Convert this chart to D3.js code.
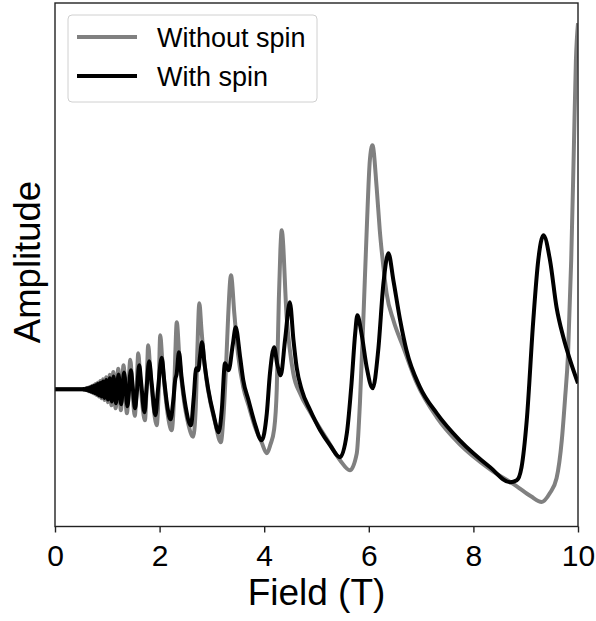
<!DOCTYPE html>
<html>
<head>
<meta charset="utf-8">
<script src="https://cdn.jsdelivr.net/npm/d3@7"></script>
<style>
  html, body { margin: 0; padding: 0; background: #fff; }
  svg text { font-family: "Liberation Sans", Arial, sans-serif; fill: #000; }
</style>
</head>
<body>
<div id="chart"></div>
<script>
// ---- data (field in T, amplitude in arbitrary units) ----
const xTicks = [0, 2, 4, 6, 8, 10];
const seriesNames = ["Without spin", "With spin"];

const withoutSpin = [
  [0, 0], [0.25, 0], [0.45, 0], [0.52, 0],
  [0.531, 0.002], [0.541, -0.003], [0.551, 0.004], [0.561, -0.005],
  [0.571, 0.006], [0.582, -0.007], [0.594, 0.009], [0.606, -0.010],
  [0.618, 0.013], [0.631, -0.015], [0.644, 0.018], [0.658, -0.020],
  [0.673, 0.024], [0.688, -0.027], [0.704, 0.032], [0.721, -0.035],
  [0.739, 0.041], [0.757, -0.045], [0.776, 0.052], [0.797, -0.057],
  [0.818, 0.066], [0.840, -0.072], [0.865, 0.082], [0.890, -0.089],
  [0.917, 0.100], [0.946, -0.108], [0.977, 0.120], [1.010, -0.130],
  [1.044, 0.145], [1.080, -0.160], [1.115, 0.173], [1.160, -0.190],
  [1.210, 0.205], [1.260, -0.210], [1.310, 0.240], [1.375, -0.240],
  [1.440, 0.295], [1.480, 0.0], [1.525, -0.265], [1.560, 0.0],
  [1.592, 0.360], [1.630, 0.10], [1.670, -0.15], [1.720, -0.310], [1.750, 0.0],
  [1.782, 0.440], [1.820, 0.20], [1.870, -0.10], [1.945, -0.360], [1.980, -0.05],
  [2.012, 0.540], [2.050, 0.30], [2.100, 0.0], [2.170, -0.30], [2.230, -0.410], [2.270, -0.15], [2.300, 0.35],
  [2.328, 0.670], [2.380, 0.30], [2.450, -0.05], [2.550, -0.35], [2.640, -0.475], [2.690, -0.20], [2.720, 0.35],
  [2.760, 0.860], [2.800, 0.60], [2.850, 0.30], [2.900, 0.08], [2.960, -0.10], [3.060, -0.33], [3.170, -0.530],
  [3.220, -0.28], [3.270, 0.22], [3.310, 0.72],
  [3.365, 1.140], [3.430, 0.75], [3.500, 0.35], [3.600, 0.02], [3.700, -0.16], [3.820, -0.37], [3.950, -0.53],
  [4.050, -0.640], [4.120, -0.55], [4.190, -0.40], [4.240, 0.0], [4.280, 0.90], [4.310, 1.40],
  [4.335, 1.590], [4.430, 0.72], [4.556, 0.16], [4.685, -0.04], [4.880, -0.23], [5.200, -0.50], [5.450, -0.71],
  [5.640, -0.810], [5.770, -0.64], [5.830, -0.14], [5.895, 0.69], [5.960, 1.59], [6.020, 2.29],
  [6.070, 2.440], [6.150, 2.02], [6.210, 1.59], [6.280, 1.22], [6.340, 0.96], [6.470, 0.69], [6.660, 0.42],
  [6.920, 0.06], [7.300, -0.28], [7.740, -0.55], [8.320, -0.80], [8.830, -0.97], [9.100, -1.07],
  [9.306, -1.127], [9.460, -1.04], [9.590, -0.89], [9.690, -0.51], [9.750, -0.11], [9.810, 0.36],
  [9.870, 1.29], [9.920, 2.39], [9.960, 3.29], [10.0, 3.66]
];

const withSpin = [
  [0, 0], [0.25, 0], [0.45, 0], [0.52, 0],
  [0.533, 0.001], [0.543, -0.002], [0.553, 0.002], [0.563, -0.003],
  [0.573, 0.004], [0.584, -0.005], [0.596, 0.007], [0.608, -0.008],
  [0.620, 0.010], [0.633, -0.012], [0.646, 0.014], [0.660, -0.017],
  [0.675, 0.019], [0.690, -0.022], [0.706, 0.025], [0.723, -0.029],
  [0.741, 0.032], [0.759, -0.037], [0.778, 0.041], [0.799, -0.047],
  [0.820, 0.052], [0.842, -0.059], [0.867, 0.064], [0.892, -0.072],
  [0.920, 0.078], [0.948, -0.086], [0.980, 0.093], [1.013, -0.103],
  [1.047, 0.110], [1.085, -0.122], [1.120, 0.128], [1.165, -0.140],
  [1.215, 0.148], [1.265, -0.150], [1.320, 0.168], [1.385, -0.170],
  [1.450, 0.190], [1.490, 0.0], [1.530, -0.190], [1.570, 0.0],
  [1.610, 0.240], [1.650, 0.05], [1.710, -0.230], [1.750, 0.0],
  [1.800, 0.280], [1.850, 0.05], [1.920, -0.260], [1.970, 0.0],
  [2.040, 0.315], [2.090, 0.08], [2.150, -0.18], [2.210, -0.300], [2.260, -0.12], [2.300, 0.10], [2.325, 0.15],
  [2.370, 0.370], [2.420, 0.12], [2.500, -0.18], [2.600, -0.360], [2.650, -0.10], [2.700, 0.21], [2.740, 0.19], [2.775, 0.34],
  [2.810, 0.470], [2.860, 0.25], [2.930, 0.0], [3.030, -0.25], [3.130, -0.430], [3.190, -0.20], [3.250, 0.26], [3.320, 0.19], [3.400, 0.45],
  [3.455, 0.620], [3.540, 0.32], [3.600, 0.09], [3.700, -0.11], [3.820, -0.34], [3.950, -0.510], [4.050, -0.24], [4.110, 0.16],
  [4.190, 0.420], [4.250, 0.25], [4.315, 0.14], [4.400, 0.50],
  [4.490, 0.870], [4.560, 0.49], [4.620, 0.22], [4.720, -0.01], [4.880, -0.21], [5.070, -0.41], [5.260, -0.56],
  [5.450, -0.680], [5.580, -0.44], [5.670, 0.06], [5.740, 0.56],
  [5.780, 0.740], [5.860, 0.56], [5.960, 0.22], [6.075, 0.01], [6.180, 0.39], [6.280, 1.06],
  [6.375, 1.360], [6.470, 1.09], [6.600, 0.69], [6.720, 0.39], [6.980, 0.02], [7.300, -0.24], [7.740, -0.51],
  [8.320, -0.78], [8.700, -0.930], [8.830, -0.91], [8.920, -0.78], [9.020, -0.31], [9.145, 0.69], [9.240, 1.29],
  [9.340, 1.540], [9.465, 1.29], [9.590, 0.82], [9.720, 0.52], [9.850, 0.29], [10.0, 0.06]
];

const seriesColors = ["#808080", "#000000"];

// ---- layout ----
const W = 596, H = 621;
const margin = {top: 3, right: 18, bottom: 94.5, left: 55};
const width = W - margin.left - margin.right;
const height = H - margin.top - margin.bottom;

const svg = d3.select("#chart").append("svg")
    .attr("width", W)
    .attr("height", H);

const g = svg.append("g")
    .attr("transform", `translate(${margin.left},${margin.top})`);

const x = d3.scaleLinear().domain([0, 10]).range([0, width]);
const y = d3.scaleLinear().domain([-1.372, 3.863]).range([height, 0]);

g.append("clipPath").attr("id", "plot-clip")
  .append("rect").attr("width", width).attr("height", height);

const line = d3.line()
    .x(d => x(d[0]))
    .y(d => y(d[1]))
    .curve(d3.curveMonotoneX);

const lines = g.append("g").attr("clip-path", "url(#plot-clip)");
[withoutSpin, withSpin].forEach((s, i) => {
  lines.append("path")
      .datum(s)
      .attr("fill", "none")
      .attr("stroke", seriesColors[i])
      .attr("stroke-width", 4)
      .attr("stroke-linejoin", "round")
      .attr("d", line);
});

// x axis
const xAxis = g.append("g")
    .attr("transform", `translate(0,${height})`)
    .call(d3.axisBottom(x).tickValues(xTicks).tickSize(6).tickPadding(12).tickFormat(d3.format("d")));
xAxis.select(".domain").remove();
xAxis.selectAll(".tick line").attr("stroke", "#222").attr("stroke-width", 1.4);
xAxis.selectAll(".tick text")
    .style("font-size", "30px")
    .style("font-family", "'Liberation Sans', Arial, sans-serif")
    .attr("fill", "#000");

// frame
g.append("rect")
    .attr("width", width)
    .attr("height", height)
    .attr("fill", "none")
    .attr("stroke", "#222")
    .attr("stroke-width", 1.4);

// axis labels
svg.append("text")
    .attr("x", margin.left + width / 2)
    .attr("y", 605)
    .attr("text-anchor", "middle")
    .style("font-size", "37px")
    .text("Field (T)");

svg.append("text")
    .attr("transform", "rotate(-90)")
    .attr("x", -262)
    .attr("y", 40)
    .attr("text-anchor", "middle")
    .style("font-size", "36.5px")
    .text("Amplitude");

// legend
const legend = svg.append("g").attr("transform", "translate(68,15)");
legend.append("rect")
    .attr("width", 249)
    .attr("height", 87)
    .attr("rx", 4)
    .attr("fill", "#fff")
    .attr("fill-opacity", 0.8)
    .attr("stroke", "#d0d0d0")
    .attr("stroke-width", 1);

seriesNames.forEach((name, i) => {
  const row = legend.append("g").attr("transform", `translate(0,${22 + i * 39})`);
  row.append("line")
      .attr("x1", 9).attr("x2", 69)
      .attr("stroke", seriesColors[i])
      .attr("stroke-width", 4);
  row.append("text")
      .attr("x", 89)
      .attr("y", 9.5)
      .style("font-size", "27px")
      .text(name);
});
</script>
</body>
</html>
